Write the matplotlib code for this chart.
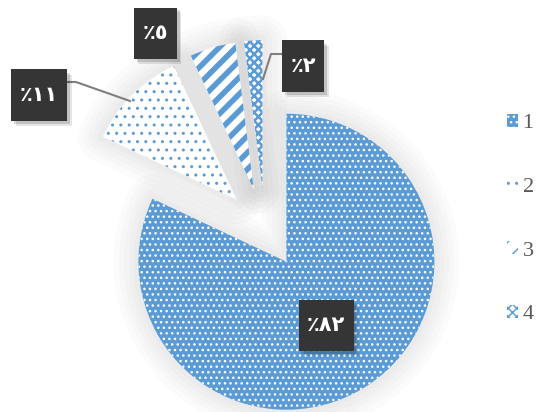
import matplotlib
matplotlib.use("Agg")
import matplotlib.pyplot as plt
from matplotlib.patches import Wedge, Rectangle

# values
categories = ["1", "2", "3", "4"]
shares = [82, 11, 5, 2]
labels = ["٪٨٢", "٪١١", "٪٥", "٪٢"]

blue = "#5B9BD5"
W, H = 538, 412
cx, cy, R = 265, 228, 148   # pie centre and radius in pixels (top-left origin)

fig = plt.figure(figsize=(W / 100, H / 100), dpi=100)
ax = fig.add_axes([0, 0, 1, 1])

wedges, _ = ax.pie(shares, startangle=90, counterclock=False, radius=1,
                   explode=[0.27] * 4,
                   wedgeprops=dict(linewidth=0))
ax.set_xlim(-cx / R, (W - cx) / R)
ax.set_ylim(-(H - cy) / R, cy / R)
ax.set_aspect("auto")
ax.axis("off")

# fills / patterns
styles = [
    dict(face=blue, hatch="...", hc="white", hlw=1.0),
    dict(face="white", hatch="..", hc=blue, hlw=1.0),
    dict(face="white", hatch="//", hc=blue, hlw=4.0),
    dict(face="white", hatch="xxxx", hc=blue, hlw=1.8),
]
for w, st in zip(wedges, styles):
    w.set_facecolor(st["face"])
    w.set_hatch(st["hatch"])
    w.set_edgecolor(st["hc"])
    w.set_linewidth(0)
    if hasattr(w, "set_hatch_linewidth"):
        w.set_hatch_linewidth(st["hlw"])
    w.set_zorder(3)
    # soft grey glow round each slice
    for lw in [36, 28, 21, 14, 7]:
        ax.add_patch(Wedge(w.center, w.r, w.theta1, w.theta2, facecolor="none",
                           edgecolor="black", linewidth=lw, alpha=0.015, zorder=1,
                           joinstyle="round"))

# label boxes: pixel centre and size (top-left origin)
box_pos = [(326, 325), (39, 95), (155, 33), (303, 66)]
box_w = [55, 56, 43, 42]
box_h = 51
for lab, (px, py), bw in zip(labels, box_pos, box_w):
    x0, y0 = (px - bw / 2) / W, 1 - (py + box_h / 2) / H
    # shadow
    for d, a in [(5, 0.10), (3, 0.15)]:
        ax.add_patch(Rectangle((x0 + d / W, y0 - d / H), bw / W, box_h / H,
                               transform=ax.transAxes, facecolor="black", alpha=a,
                               edgecolor="none", zorder=5))
    ax.add_patch(Rectangle((x0, y0), bw / W, box_h / H, transform=ax.transAxes,
                           facecolor="#353535", edgecolor="none", zorder=6))
    ax.text(px / W, 1 - py / H, lab, transform=ax.transAxes, ha="center", va="center",
            fontsize=15, fontweight="bold", color="white", zorder=7,
            family="DejaVu Sans")

# leader lines
ax.plot([67 / W, 76 / W, 130 / W], [1 - 82 / H, 1 - 82 / H, 1 - 101 / H],
        transform=ax.transAxes, color="#7f7f7f", lw=1.5, zorder=4)
ax.plot([282 / W, 271 / W, 263 / W], [1 - 54 / H, 1 - 54 / H, 1 - 79 / H],
        transform=ax.transAxes, color="#7f7f7f", lw=1.5, zorder=4)

leg = ax.legend(wedges, categories, loc="upper left",
                bbox_to_anchor=(507 / W, 1 - 114 / H), borderaxespad=0,
                frameon=False, handlelength=0.5, handleheight=0.5, handletextpad=0.2,
                labelspacing=2.0, borderpad=0,
                prop=dict(family="Liberation Serif", size=16))
for t in leg.get_texts():
    t.set_color("#595959")

fig.savefig("out.png", dpi=100, facecolor="white")
